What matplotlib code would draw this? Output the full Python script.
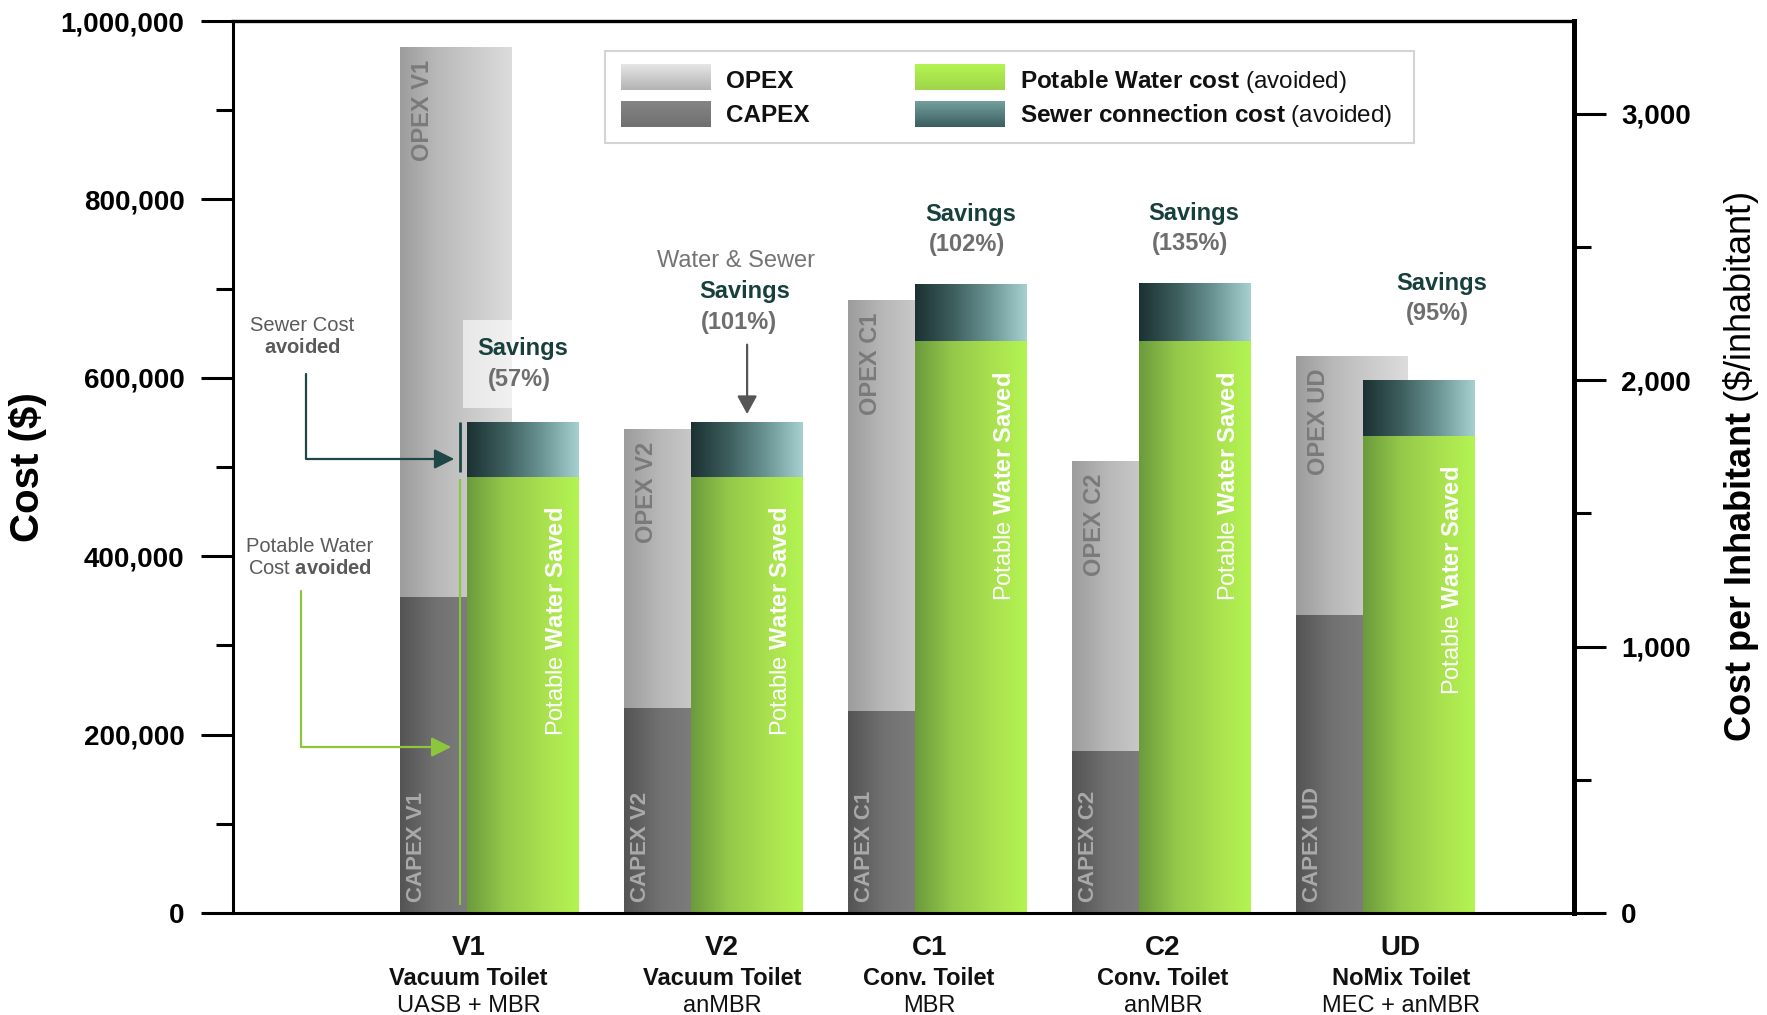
import numpy as np
import matplotlib
matplotlib.use("Agg")
import matplotlib.pyplot as plt
from matplotlib.colors import LinearSegmentedColormap
from matplotlib.patches import Rectangle
from matplotlib.transforms import ScaledTranslation

plt.rcParams['font.family'] = ['Liberation Sans', 'DejaVu Sans']
plt.rcParams['mathtext.fontset'] = 'custom'
plt.rcParams['mathtext.rm'] = 'Liberation Sans'
plt.rcParams['mathtext.bf'] = 'Liberation Sans:bold'
plt.rcParams['mathtext.it'] = 'Liberation Sans:italic'

# Scenario costs and avoided costs ($)
codes = ['V1', 'V2', 'C1', 'C2', 'UD']
toilets = ['Vacuum Toilet', 'Vacuum Toilet', 'Conv. Toilet', 'Conv. Toilet', 'NoMix Toilet']
treatments = ['UASB + MBR', 'anMBR', 'MBR', 'anMBR', 'MEC + anMBR']
capex = [354000, 230000, 227000, 182000, 334000]
opex = [616000, 312000, 460000, 325000, 290000]
water_avoided = [489000, 489000, 641000, 641000, 535000]
sewer_avoided = [61000, 61000, 63000, 64000, 62000]
savings_pct = [57, 101, 102, 135, 95]
inhabitants = 298.7

# colour ramps (left -> right across each bar)
opex_cmap = LinearSegmentedColormap.from_list('opex', ['#9c9c9c', '#b9b9b9', '#cbcbcb', '#dcdcdc'])
capex_cmap = LinearSegmentedColormap.from_list('capex', ['#545454', '#727272', '#7e7e7e', '#868686'])
water_cmap = LinearSegmentedColormap.from_list('water', ['#6c9a3d', '#93c84a', '#a8df4f', '#b3f452'])
sewer_cmap = LinearSegmentedColormap.from_list('sewer', ['#1b3132', '#3d5d5d', '#6a9393', '#a7d0d0'])


def shade(ax, patch, cmap, zorder):
    # paint a horizontal gradient inside a bar patch
    x, y = patch.get_x(), patch.get_y()
    w, h = patch.get_width(), patch.get_height()
    grad = np.linspace(0, 1, 256)[None, :]
    ax.imshow(grad, cmap=cmap, extent=[x, x + w, y, y + h], aspect='auto',
              interpolation='bicubic', zorder=zorder)


def swatch(ax, x0, y0, w, h, top, bottom):
    # legend swatch with a vertical gradient, in axes coordinates
    cmap = LinearSegmentedColormap.from_list('sw', [top, bottom])
    grad = np.linspace(0, 1, 64)[:, None]
    ax.imshow(grad, cmap=cmap, extent=[x0, x0 + w, y0, y0 + h], aspect='auto',
              transform=ax.transAxes, zorder=7)


fig = plt.figure(figsize=(17.67, 10.15), dpi=100)
ax = fig.add_axes([0.1319, 0.1005, 0.7589, 0.8788])

pos = np.arange(len(codes))
width = 0.5
gray_x = pos - 0.05
green_x = pos + 0.25

cap_bars = ax.bar(gray_x, capex, width, color='none', linewidth=0)
op_bars = ax.bar(gray_x, opex, width, bottom=capex, color='none', linewidth=0)
wat_bars = ax.bar(green_x, water_avoided, width, color='none', linewidth=0)
sew_bars = ax.bar(green_x, sewer_avoided, width, bottom=water_avoided, color='none', linewidth=0)

for i in range(len(codes)):
    shade(ax, cap_bars[i], capex_cmap, 1)
    shade(ax, op_bars[i], opex_cmap, 1)
    shade(ax, wat_bars[i], water_cmap, 2)
    shade(ax, sew_bars[i], sewer_cmap, 2)

# text inside the bars
for i, code in enumerate(codes):
    op = op_bars[i]
    ax.annotate(f'OPEX {code}', xy=(op.get_x(), op.get_y() + op.get_height()),
                xytext=(16, -9), textcoords='offset points', rotation=90,
                ha='center', va='top', fontsize=17, fontweight='bold',
                color='#7a7a7a', zorder=5)
    cp = cap_bars[i]
    ax.annotate(f'CAPEX {code}', xy=(cp.get_x(), 0), xytext=(12, 8),
                textcoords='offset points', rotation=90, ha='center', va='bottom',
                fontsize=16, fontweight='bold', color='#a9a9a9', zorder=5)
    wt = wat_bars[i]
    ax.annotate(r'Potable $\mathbf{Water\ Saved}$',
                xy=(wt.get_x() + wt.get_width(), wt.get_height()),
                xytext=(-16, -22), textcoords='offset points', rotation=90,
                ha='center', va='top', fontsize=17, color='white', zorder=5)

# savings labels above the green bars
totals = [w + s for w, s in zip(water_avoided, sewer_avoided)]

# pale backing box where the V1 label sits over the OPEX bar (sized in inches)
box_trans = fig.dpi_scale_trans + ScaledTranslation(green_x[0], totals[0], ax.transData)
ax.add_patch(Rectangle((-0.605, 0.14), 1.24, 0.88, transform=box_trans,
                       facecolor='white', edgecolor='none', alpha=0.6, zorder=3))

label_offsets = {0: (0, 53), 2: (0, 51), 3: (-1, 51), 4: (16, 70)}
for i, (dx, dy) in label_offsets.items():
    top = (green_x[i], totals[i])
    ax.annotate('Savings', xy=top, xytext=(dx, dy), textcoords='offset points',
                ha='center', va='center', fontsize=17, fontweight='bold',
                color='#17403d', zorder=6)
    ax.annotate(f'({savings_pct[i]}%)', xy=top, xytext=(dx - 3, dy - 22),
                textcoords='offset points', ha='center', va='center', fontsize=17,
                fontweight='bold', color='#6e6e6e', zorder=6)

# V2: water & sewer savings with a pointer
top = (green_x[1], totals[1])
ax.annotate('Water & Sewer', xy=top, xytext=(-8, 116), textcoords='offset points',
            ha='center', va='center', fontsize=17, color='#747474', zorder=6)
ax.annotate('Savings', xy=top, xytext=(-2, 94), textcoords='offset points',
            ha='center', va='center', fontsize=17, fontweight='bold', color='#17403d', zorder=6)
ax.annotate(f'({savings_pct[1]}%)', xy=top, xytext=(-6, 72), textcoords='offset points',
            ha='center', va='center', fontsize=17, fontweight='bold', color='#6e6e6e', zorder=6)
ax.annotate('', xy=top, xytext=(0, 56), textcoords='offset points',
            arrowprops=dict(arrowstyle='-|>,head_length=0.55,head_width=0.3',
                            mutation_scale=20, color='#555555', lw=1.6,
                            shrinkA=0, shrinkB=6), zorder=6)

# explanation of the V1 avoided-cost components
bx = wat_bars[0].get_x() - 0.031
ax.vlines(bx, water_avoided[0] + 5000, totals[0], color='#1f4747', lw=2, zorder=4)
ax.vlines(bx, 9000, water_avoided[0] - 3000, color='#8cc63f', lw=1.5, zorder=4)
ax.annotate('Sewer Cost\n' + r'$\mathbf{avoided}$', xy=(bx - 0.027, 509000),
            xytext=(-0.737, 646000), textcoords='data', ha='center', va='center',
            fontsize=14.5, color='#5a5a5a', multialignment='center', zorder=6,
            arrowprops=dict(arrowstyle='-|>,head_length=0.6,head_width=0.3',
                            mutation_scale=20, color='#1f4747', lw=1.6,
                            connectionstyle='angle,angleA=90,angleB=0,rad=0',
                            relpos=(0.54, 0), shrinkA=10, shrinkB=0))
ax.annotate('Potable Water\nCost ' + r'$\mathbf{avoided}$', xy=(bx - 0.04, 186000),
            xytext=(-0.701, 399000), textcoords='data', ha='center', va='center',
            fontsize=14.5, color='#5a5a5a', multialignment='center', zorder=6,
            arrowprops=dict(arrowstyle='-|>,head_length=0.6,head_width=0.3',
                            mutation_scale=20, color='#8cc63f', lw=1.6,
                            connectionstyle='angle,angleA=90,angleB=0,rad=0',
                            relpos=(0.43, 0), shrinkA=8, shrinkB=0))

# legend
ax.add_patch(Rectangle((0.2774, 0.8632), 0.6033, 0.1032, transform=ax.transAxes,
                       facecolor='white', edgecolor='#d4d4d4', lw=1.5, zorder=6))
sw_w, sw_h = 0.0664, 0.0285
swatch(ax, 0.2893, 0.9226, sw_w, sw_h, '#e6e6e6', '#b3b3b3')
swatch(ax, 0.2893, 0.8812, sw_w, sw_h, '#858585', '#707070')
swatch(ax, 0.5086, 0.9226, sw_w, sw_h, '#b3f452', '#9fd54a')
swatch(ax, 0.5086, 0.8812, sw_w, sw_h, '#749f9f', '#3c5e5f')
ax.text(0.3676, 0.932, 'OPEX', transform=ax.transAxes, fontsize=17.5, fontweight='bold',
        va='center', color='#111111', zorder=8)
ax.text(0.3676, 0.8937, 'CAPEX', transform=ax.transAxes, fontsize=17.5, fontweight='bold',
        va='center', color='#111111', zorder=8)
ax.text(0.5869, 0.932, r'$\mathbf{Potable\ Water\ cost}$ (avoided)', transform=ax.transAxes,
        fontsize=17.5, va='center', color='#111111', zorder=8)
ax.text(0.5869, 0.8937, r'$\mathbf{Sewer\ connection\ cost}$ (avoided)',
        transform=ax.transAxes, fontsize=17.5, va='center', color='#111111', zorder=8)

# category labels under the axis
label_nudge = [-15, 6, -6, 1, 11]
for i in range(len(codes)):
    xc = pos[i] + 0.1
    dx = label_nudge[i]
    ax.annotate(codes[i], xy=(xc, 0), xycoords=('data', 'axes fraction'), xytext=(dx, -25),
                textcoords='offset points', ha='center', va='center', fontsize=20,
                fontweight='bold', color='#111111')
    ax.annotate(toilets[i], xy=(xc, 0), xycoords=('data', 'axes fraction'), xytext=(dx, -47),
                textcoords='offset points', ha='center', va='center', fontsize=17,
                fontweight='bold', color='#111111')
    ax.annotate(treatments[i], xy=(xc, 0), xycoords=('data', 'axes fraction'), xytext=(dx, -67),
                textcoords='offset points', ha='center', va='center', fontsize=17,
                color='#111111')

# left axis: total cost
ax.set_xlim(-1.045, 4.942)
ax.set_ylim(0, 1000000)
ax.set_xticks([])
left_major = list(range(0, 1000001, 200000))
ax.set_yticks(left_major)
ax.set_yticklabels([f'{v:,}' for v in left_major], fontsize=20, fontweight='bold')
ax.set_yticks(list(range(100000, 1000000, 200000)), minor=True)
ax.tick_params(axis='y', which='major', length=23, width=2.2, pad=12, color='black')
ax.tick_params(axis='y', which='minor', length=12, width=2.2)
ax.set_ylabel('Cost ($)', fontsize=29, fontweight='bold', va='center')
ax.yaxis.set_label_coords(-0.153, 0.5)
ax.spines['right'].set_visible(False)
ax.spines['left'].set_linewidth(2.2)
ax.spines['bottom'].set_linewidth(2.2)
ax.spines['top'].set_linewidth(2.4)

# right axis: cost per inhabitant
ax2 = ax.twinx()
ax2.set_ylim(0, 1000000 / inhabitants)
right_major = [0, 1000, 2000, 3000]
ax2.set_yticks(right_major)
ax2.set_yticklabels([f'{v:,}' for v in right_major], fontsize=20, fontweight='bold')
ax2.set_yticks([500, 1500, 2500], minor=True)
ax2.tick_params(axis='y', which='major', length=23, width=2.2, pad=11)
ax2.tick_params(axis='y', which='minor', length=12, width=2.2)
for side in ['left', 'top', 'bottom']:
    ax2.spines[side].set_visible(False)
ax2.spines['right'].set_linewidth(3.6)
ax2.set_ylabel(r'$\mathbf{Cost\ per\ Inhabitant}$ (\$/inhabitant)', fontsize=26, va='center')
ax2.yaxis.set_label_coords(1.1245, 0.5)

fig.savefig('out.png', dpi=100)
